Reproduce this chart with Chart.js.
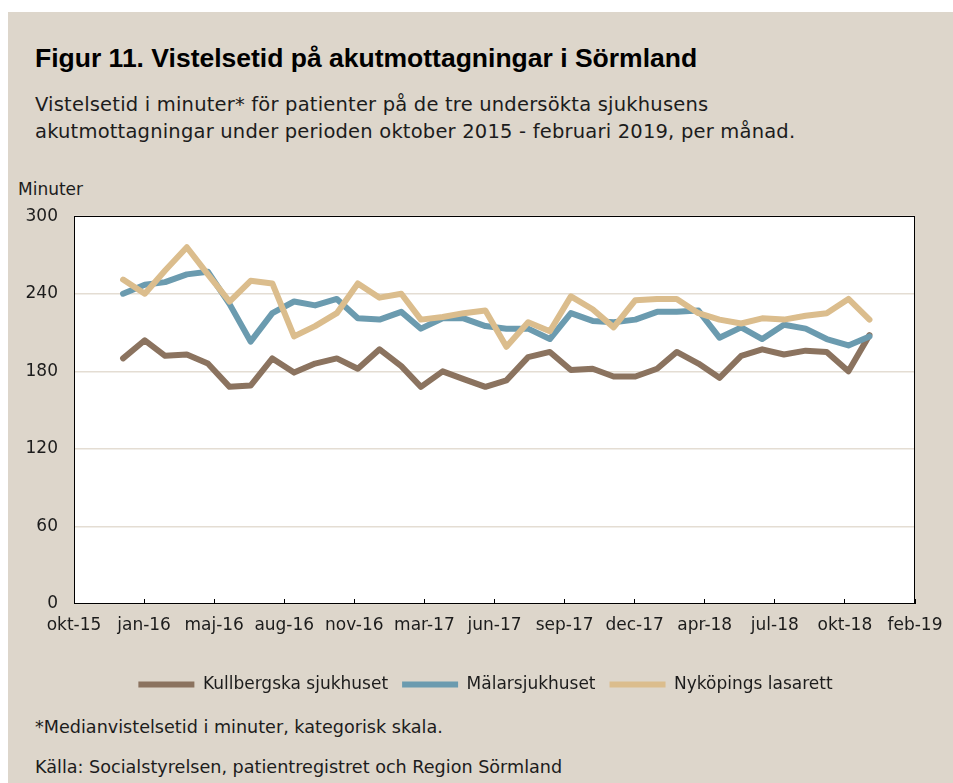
<!DOCTYPE html>
<html lang="sv">
<head>
<meta charset="UTF-8">
<title>Figur 11. Vistelsetid på akutmottagningar i Sörmland</title>
<script src="https://cdn.jsdelivr.net/npm/chart.js"></script>
<style>
    body {
        margin: 0;
        width: 953px;
        height: 783px;
        overflow: hidden;
        position: relative;
        background: #fff;
        font-family: "DejaVu Sans", sans-serif;
        color: #1c1c1c;
    }
    .panel {
        position: absolute;
        left: 8px; top: 12px; right: 0; bottom: 0;
        background: #ddd6cb;
    }
    .txt {
        position: absolute;
        white-space: nowrap;
        line-height: 27px;
    }
    .title {
        left: 35px; top: 43px;
        font: bold 26.5px "Liberation Sans", Arial, sans-serif;
        color: #000;
    }
    .sub { left: 35px; font-size: 19.5px; letter-spacing: 0.2px; }
    .small { font-size: 17px; }
    .note { left: 35px; font-size: 17.6px; }
    /* a bit wider than the page so the plot ends at x=915 */
    .chart-box {
        position: absolute;
        left: 0; top: 190px;
        width: 959px; height: 513px;
    }
</style>
</head>
<body>
<div class="panel"></div>
<div class="txt title">Figur 11. Vistelsetid på akutmottagningar i Sörmland</div>
<div class="txt sub" style="top:91px">Vistelsetid i minuter* för patienter på de tre undersökta sjukhusens</div>
<div class="txt sub" style="top:118px">akutmottagningar under perioden oktober 2015 - februari 2019, per månad.</div>
<div class="txt small" style="left:18px; top:176px">Minuter</div>
<div class="chart-box"><canvas id="chart"></canvas></div>
<div class="txt note" style="top:714px">*Medianvistelsetid i minuter, kategorisk skala.</div>
<div class="txt note" style="top:754px">Källa: Socialstyrelsen, patientregistret och Region Sörmland</div>

<script>
// month of each value (first day of month), jan 2016 - dec 2018
const months = [
    '2016-01', '2016-02', '2016-03', '2016-04', '2016-05', '2016-06',
    '2016-07', '2016-08', '2016-09', '2016-10', '2016-11', '2016-12',
    '2017-01', '2017-02', '2017-03', '2017-04', '2017-05', '2017-06',
    '2017-07', '2017-08', '2017-09', '2017-10', '2017-11', '2017-12',
    '2018-01', '2018-02', '2018-03', '2018-04', '2018-05', '2018-06',
    '2018-07', '2018-08', '2018-09', '2018-10', '2018-11', '2018-12'
];

const kullbergska = [190, 204, 192, 193, 186, 168, 169, 190, 179, 186, 190, 182,
                     197, 184, 168, 180, 174, 168, 173, 191, 195, 181, 182, 176,
                     176, 182, 195, 186, 175, 192, 197, 193, 196, 195, 180, 208];
const malarsjukhuset = [240, 247, 249, 255, 257, 232, 203, 225, 234, 231, 236, 221,
                        220, 226, 213, 221, 221, 215, 213, 213, 205, 225, 219, 218,
                        220, 226, 226, 227, 206, 214, 205, 216, 213, 205, 200, 207];
const nykoping = [251, 240, 258, 276, 255, 234, 250, 248, 207, 215, 225, 248,
                  237, 240, 220, 222, 225, 227, 199, 218, 211, 238, 228, 214,
                  235, 236, 236, 225, 220, 217, 221, 220, 223, 225, 236, 220];

// date axis: starts 23 okt 2015, one label every 100 days
const axisStart = Date.UTC(2015, 9, 23);
const tickLabels = ['okt-15', 'jan-16', 'maj-16', 'aug-16', 'nov-16', 'mar-17', 'jun-17',
                    'sep-17', 'dec-17', 'apr-18', 'jul-18', 'okt-18', 'feb-19'];

function dayOf(ym) {
    const [y, m] = ym.split('-').map(Number);
    return (Date.UTC(y, m - 1, 1) - axisStart) / 864e5;
}
function points(values) {
    return values.map((v, i) => ({ x: dayOf(months[i]), y: v }));
}

const font = { family: 'DejaVu Sans', size: 17 };

const plotFrame = {
    id: 'plotFrame',
    beforeDraw(chart) {
        const { ctx, chartArea: a } = chart;
        ctx.save();
        ctx.fillStyle = '#fff';
        ctx.fillRect(a.left, a.top, a.right - a.left, a.bottom - a.top);
        ctx.restore();
    },
    beforeDatasetsDraw(chart) {
        const { ctx, chartArea: a } = chart;
        ctx.save();
        ctx.strokeStyle = '#000';
        ctx.lineWidth = 1;
        ctx.strokeRect(Math.round(a.left) + 0.5, Math.round(a.top) + 0.5,
                       Math.round(a.right - a.left) - 1, Math.round(a.bottom - a.top) - 1);
        ctx.restore();
    }
};

function series(label, values, color, order) {
    return {
        label: label,
        data: points(values),
        borderColor: color,
        backgroundColor: color,
        pointBorderColor: color,
        pointBorderWidth: 6,
        borderWidth: 6,
        pointRadius: 0,
        pointHoverRadius: 0,
        tension: 0,
        borderJoinStyle: 'round',
        borderCapStyle: 'round',
        order: order
    };
}

new Chart(document.getElementById('chart'), {
    type: 'line',
    data: {
        datasets: [
            series('Kullbergska sjukhuset', kullbergska, '#8b735f', 2),
            series('Mälarsjukhuset', malarsjukhuset, '#6b9baf', 1),
            series('Nyköpings lasarett', nykoping, '#dbbd8d', 0)
        ]
    },
    options: {
        responsive: true,
        maintainAspectRatio: false,
        animation: false,
        layout: { padding: { left: 56, right: 44, top: 25, bottom: 0 } },
        plugins: {
            legend: {
                position: 'bottom',
                labels: {
                    usePointStyle: true,
                    pointStyle: 'line',
                    pointStyleWidth: 56,
                    boxHeight: 6,
                    padding: 14,
                    color: '#1c1c1c',
                    font: font,
                    sort: (a, b) => a.datasetIndex - b.datasetIndex
                }
            },
            tooltip: { enabled: false }
        },
        scales: {
            x: {
                type: 'linear',
                min: 0,
                max: 1200,
                afterFit: s => { s.height = 58; },
                border: { display: false },
                grid: { drawOnChartArea: false, tickLength: -5, color: '#000' },
                ticks: {
                    stepSize: 100,
                    autoSkip: false,
                    maxRotation: 0,
                    padding: 16,
                    color: '#1c1c1c',
                    font: font,
                    callback: (v, i) => tickLabels[i]
                }
            },
            y: {
                min: 0,
                max: 300,
                // narrow axis box so the legend centres like the original; labels may overhang it
                afterFit: s => { s.width = 18; s._computeLabelArea = () => undefined; },
                border: { display: false },
                grid: { color: '#e4ddd3', lineWidth: 1.5, drawTicks: false },
                ticks: { stepSize: 60, padding: 16, color: '#1c1c1c', font: font }
            }
        }
    },
    plugins: [plotFrame]
});
</script>
</body>
</html>
